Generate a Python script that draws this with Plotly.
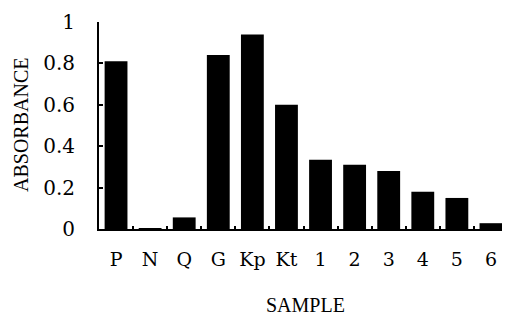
import plotly.graph_objects as go

samples = ["P", "N", "Q", "G", "Kp", "Kt", "1", "2", "3", "4", "5", "6"]
absorbance = [0.81, 0.004, 0.056, 0.84, 0.94, 0.60, 0.335, 0.31, 0.28, 0.18, 0.15, 0.028]
y_ticks = [0, 0.2, 0.4, 0.6, 0.8, 1]
y_tick_text = ["0", "0.2", "0.4", "0.6", "0.8", "1"]

TITLE_FONT = "Liberation Serif"
TICK_FONT = "DejaVu Serif"

# page body has an 8px default margin; size the figure to fill the rest
OFF = 8
W, H = 510 - OFF, 320 - OFF
l, r, t, b = 99 - OFF, 2, 14 - OFF, 91
pw, ph = W - l - r, H - t - b

def px_to_paper(px, py):
    return (px - OFF - l) / pw, (H - b - (py - OFF)) / ph

fig = go.Figure(go.Bar(x=samples, y=absorbance, marker=dict(color="black", line=dict(width=0))))

ax, ay = px_to_paper(21, 121)
sx, sy = px_to_paper(305, 308)

fig.update_layout(
    width=W, height=H,
    margin=dict(l=l, r=r, t=t, b=b),
    paper_bgcolor="white", plot_bgcolor="white",
    bargap=0.33,
    showlegend=False,
    font=dict(family=TICK_FONT, color="black", size=20),
    xaxis=dict(
        type="category", showline=True, linecolor="black", linewidth=2,
        ticks="inside", tickson="boundaries", ticklen=3, tickcolor="black", tickwidth=1.5,
        showgrid=False, zeroline=False, ticklabelstandoff=12, tickangle=0,
        ticklabeloverflow="allow",
        tickfont=dict(family=TICK_FONT, size=19),
    ),
    yaxis=dict(
        range=[0, 1], showline=True, linecolor="black", linewidth=2,
        ticks="inside", ticklen=4, tickcolor="black", tickwidth=1.5,
        tickvals=y_ticks, ticktext=y_tick_text,
        showgrid=False, zeroline=False, ticklabelstandoff=18,
        ticklabeloverflow="allow",
        tickfont=dict(family=TICK_FONT, size=20),
    ),
    annotations=[
        dict(text="ABSORBANCE", x=ax, y=ay, xref="paper", yref="paper", showarrow=False,
             xanchor="center", yanchor="middle",
             textangle=-90, font=dict(family=TITLE_FONT, size=20)),
        dict(text="SAMPLE", x=sx, y=sy, xref="paper", yref="paper", showarrow=False,
             xanchor="center", yanchor="middle",
             font=dict(family=TITLE_FONT, size=20)),
    ],
)

fig.write_html("out.html")
